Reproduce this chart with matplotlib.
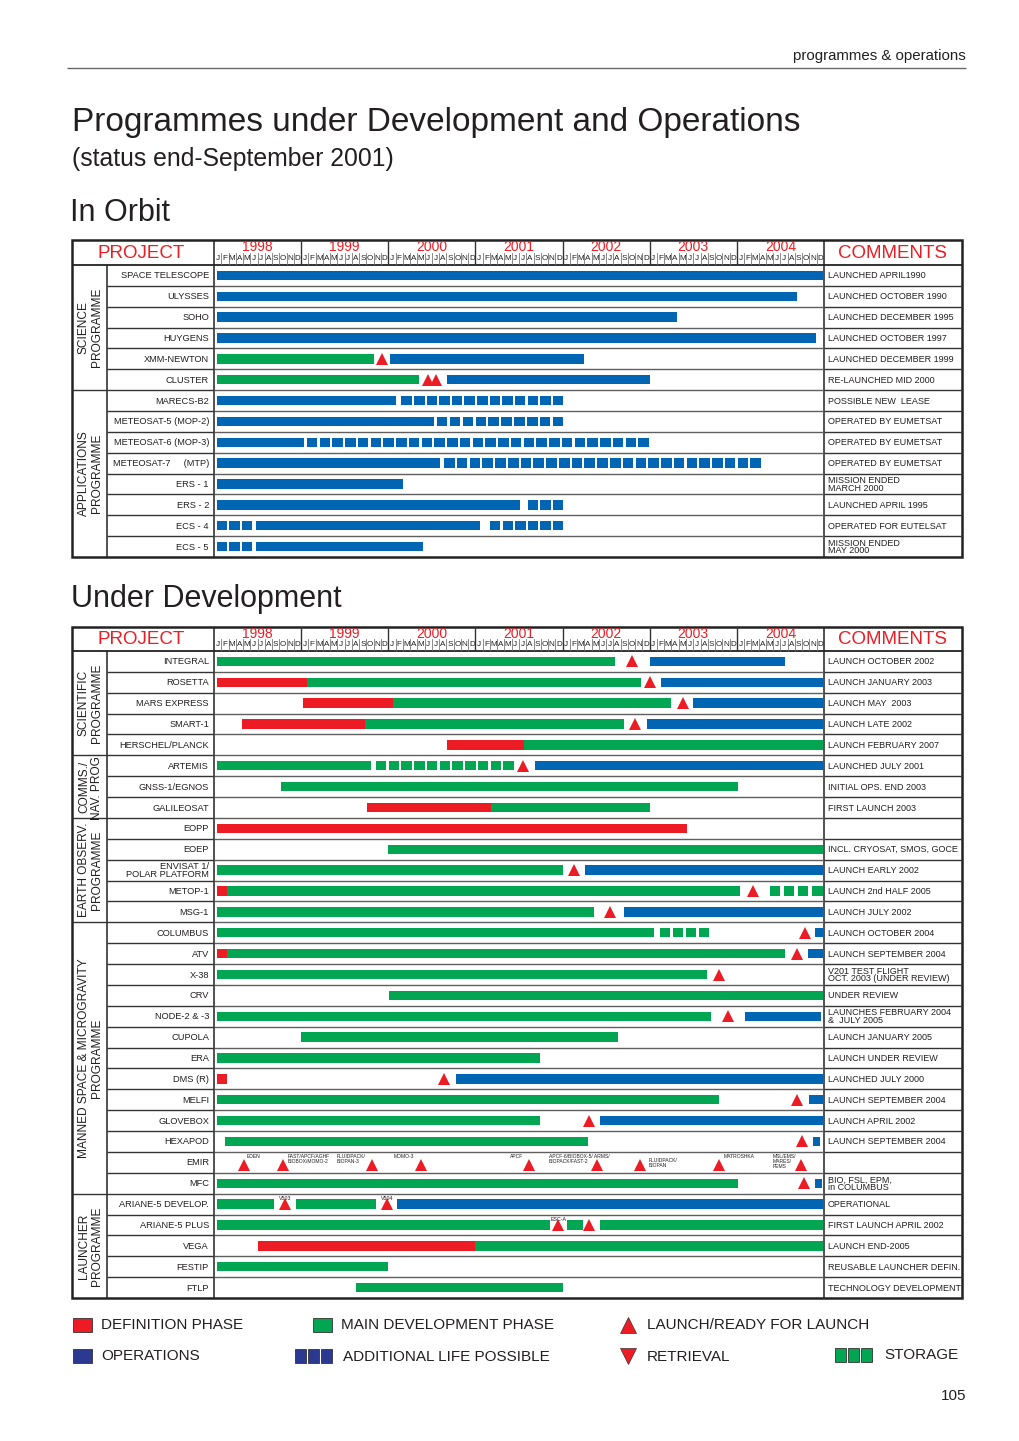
import numpy as np
import matplotlib
matplotlib.use("Agg")
import matplotlib.pyplot as plt
from matplotlib.patches import Rectangle
from matplotlib import font_manager

plt.rcParams['font.family'] = ['Liberation Sans', 'DejaVu Sans']
_avail = {f.name for f in font_manager.fontManager.ttflist}
NARROW = 'Liberation Sans Narrow' if 'Liberation Sans Narrow' in _avail else 'Liberation Sans'
NS = 1.0 if NARROW == 'Liberation Sans Narrow' else 0.84

# ------------------------------------------------------------------ data
years = ["1998", "1999", "2000", "2001", "2002", "2003", "2004"]
month_letters = list("JFMAMJJASOND")

# ---- In Orbit
orbit_names = ["SPACE TELESCOPE", "ULYSSES", "SOHO", "HUYGENS", "XMM-NEWTON", "CLUSTER",
               "MARECS-B2", "METEOSAT-5 (MOP-2)", "METEOSAT-6 (MOP-3)", "METEOSAT-7     (MTP)",
               "ERS - 1", "ERS - 2", "ECS - 4", "ECS - 5"]
orbit_comments = ["LAUNCHED APRIL1990", "LAUNCHED OCTOBER 1990", "LAUNCHED DECEMBER 1995",
                  "LAUNCHED OCTOBER 1997", "LAUNCHED DECEMBER 1999", "RE-LAUNCHED MID 2000",
                  "POSSIBLE NEW  LEASE", "OPERATED BY EUMETSAT", "OPERATED BY EUMETSAT",
                  "OPERATED BY EUMETSAT", "MISSION ENDED\nMARCH 2000", "LAUNCHED APRIL 1995",
                  "OPERATED FOR EUTELSAT", "MISSION ENDED\nMAY 2000"]
orbit_groups = ["SCIENCE\nPROGRAMME", "APPLICATIONS\nPROGRAMME"]
orbit_group_sizes = [6, 8]
# (row, phase, start month, end month) ; month 0 = Jan 1998
orbit_bars = [
    (0, 'ops', 0.4, 83.8), (1, 'ops', 0.4, 80.3), (2, 'ops', 0.4, 63.8), (3, 'ops', 0.4, 82.9),
    (4, 'dev', 0.4, 22.0), (4, 'ops', 24.2, 51.0),
    (5, 'dev', 0.4, 28.2), (5, 'ops', 32.1, 60.1),
    (6, 'ops', 0.4, 25.1), (7, 'ops', 0.4, 30.3), (8, 'ops', 0.4, 12.4), (9, 'ops', 0.4, 31.1),
    (10, 'ops', 0.4, 26.0), (11, 'ops', 0.4, 42.1), (12, 'ops', 5.8, 36.6), (13, 'ops', 5.8, 28.8),
]
orbit_launches = [(4, 23.1), (5, 29.5), (5, 30.6)]
# (row, phase, start, end, number of squares)
orbit_squares = [
    (6, 'ops', 25.8, 48.1, 13), (7, 'ops', 30.7, 48.1, 10), (8, 'ops', 12.8, 59.9, 27),
    (9, 'ops', 31.7, 75.3, 25), (11, 'ops', 43.2, 48.1, 3), (12, 'ops', 0.4, 5.3, 3),
    (12, 'ops', 38.0, 48.1, 6), (13, 'ops', 0.4, 5.3, 3),
]

# ---- Under Development
dev_names = ["INTEGRAL", "ROSETTA", "MARS EXPRESS", "SMART-1", "HERSCHEL/PLANCK",
             "ARTEMIS", "GNSS-1/EGNOS", "GALILEOSAT",
             "EOPP", "EOEP", "ENVISAT 1/\nPOLAR PLATFORM", "METOP-1", "MSG-1",
             "COLUMBUS", "ATV", "X-38", "CRV", "NODE-2 & -3", "CUPOLA", "ERA", "DMS (R)",
             "MELFI", "GLOVEBOX", "HEXAPOD", "EMIR", "MFC",
             "ARIANE-5 DEVELOP.", "ARIANE-5 PLUS", "VEGA", "FESTIP", "FTLP"]
dev_comments = ["LAUNCH OCTOBER 2002", "LAUNCH JANUARY 2003", "LAUNCH MAY  2003",
                "LAUNCH LATE 2002", "LAUNCH FEBRUARY 2007", "LAUNCHED JULY 2001",
                "INITIAL OPS. END 2003", "FIRST LAUNCH 2003", "", "INCL. CRYOSAT, SMOS, GOCE",
                "LAUNCH EARLY 2002", "LAUNCH 2nd HALF 2005", "LAUNCH JULY 2002",
                "LAUNCH OCTOBER 2004", "LAUNCH SEPTEMBER 2004",
                "V201 TEST FLIGHT\nOCT. 2003 (UNDER REVIEW)", "UNDER REVIEW",
                "LAUNCHES FEBRUARY 2004\n&  JULY 2005", "LAUNCH JANUARY 2005",
                "LAUNCH UNDER REVIEW", "LAUNCHED JULY 2000", "LAUNCH SEPTEMBER 2004",
                "LAUNCH APRIL 2002", "LAUNCH SEPTEMBER 2004", "", "BIO, FSL, EPM,\nin COLUMBUS",
                "OPERATIONAL", "FIRST LAUNCH APRIL 2002", "LAUNCH END-2005",
                "REUSABLE LAUNCHER DEFIN.", "TECHNOLOGY DEVELOPMENT"]
dev_groups = ["SCIENTIFIC\nPROGRAMME", "COMMS./\nNAV. PROG.", "EARTH OBSERV.\nPROGRAMME",
              "MANNED SPACE & MICROGRAVITY\nPROGRAMME", "LAUNCHER\nPROGRAMME"]
dev_group_sizes = [5, 3, 5, 13, 5]
dev_bars = [
    (0, 'dev', 0.4, 55.2), (0, 'ops', 60.0, 78.6),
    (1, 'def', 0.4, 12.8), (1, 'dev', 12.8, 58.8), (1, 'ops', 61.6, 83.8),
    (2, 'def', 12.2, 24.6), (2, 'dev', 24.6, 63.0), (2, 'ops', 65.9, 83.8),
    (3, 'def', 3.9, 20.8), (3, 'dev', 20.8, 56.5), (3, 'ops', 59.6, 83.8),
    (4, 'def', 32.1, 42.7), (4, 'dev', 42.7, 83.8),
    (5, 'dev', 0.4, 21.6), (5, 'ops', 44.2, 83.8),
    (6, 'dev', 9.2, 72.1),
    (7, 'def', 21.1, 38.1), (7, 'dev', 38.1, 60.0),
    (8, 'def', 0.4, 65.2),
    (9, 'dev', 23.9, 83.8),
    (10, 'dev', 0.4, 48.0), (10, 'ops', 51.1, 83.8),
    (11, 'def', 0.4, 1.8), (11, 'dev', 1.8, 72.5),
    (12, 'dev', 0.4, 52.3), (12, 'ops', 56.5, 83.8),
    (13, 'dev', 0.4, 60.6), (13, 'ops', 82.8, 83.8),
    (14, 'def', 0.4, 1.8), (14, 'dev', 1.8, 78.6), (14, 'ops', 81.8, 83.8),
    (15, 'dev', 0.4, 67.9),
    (16, 'dev', 24.1, 83.8),
    (17, 'dev', 0.4, 68.5), (17, 'ops', 73.1, 83.6),
    (18, 'dev', 12.0, 55.7),
    (19, 'dev', 0.4, 44.9),
    (20, 'def', 0.4, 1.8), (20, 'ops', 33.3, 83.8),
    (21, 'dev', 0.4, 69.6), (21, 'ops', 81.9, 83.8),
    (22, 'dev', 0.4, 44.9), (22, 'ops', 53.1, 83.8),
    (23, 'dev', 1.5, 51.5), (23, 'ops', 82.5, 83.5),
    (25, 'dev', 0.4, 72.1), (25, 'ops', 82.8, 83.7),
    (26, 'dev', 0.4, 8.3), (26, 'dev', 11.3, 22.3), (26, 'ops', 25.2, 83.8),
    (27, 'dev', 0.4, 46.3), (27, 'dev', 48.6, 50.8), (27, 'dev', 53.1, 83.8),
    (28, 'def', 6.1, 36.0), (28, 'dev', 36.0, 83.8),
    (29, 'dev', 0.4, 24.0),
    (30, 'dev', 19.5, 48.0),
]
dev_launches = [(0, 57.6), (1, 60.1), (2, 64.6), (3, 58.0), (5, 42.5), (10, 49.6), (11, 74.2),
                (12, 54.5), (13, 81.4), (14, 80.3), (15, 69.5), (17, 70.8), (20, 31.7),
                (21, 80.3), (22, 51.6), (23, 81.0), (25, 81.2), (26, 9.8), (26, 23.8),
                (27, 47.4), (27, 51.7)]
dev_squares = [(5, 'dev', 22.3, 41.3, 11), (11, 'dev', 76.5, 83.8, 4), (13, 'dev', 61.4, 68.2, 4)]
# EMIR payload launches (row 24)
emir_months = [4.1, 9.5, 21.7, 28.5, 43.4, 52.8, 58.6, 69.5, 80.9]
emir_labels = ["EDEN", "FAST/APCF/AGHF\nBIOBOX/MOMO-2", "FLUIDPACK/\nBIOPAN-3", "MOMO-3", "APCF",
               "APCF-6/BIOBOX-5/ ARMS/\nBIOPACK/FAST-2", "FLUIDPACK/\nBIOPAN", "MATROSHKA",
               "MSL/EMS/\nMARES/\nPEMS"]
# small flight labels above launch triangles
flight_labels = [(26, 9.8, "V503"), (26, 23.8, "V504"), (27, 47.4, "ESC-A")]

# ------------------------------------------------------------------ style / layout
PHASE_COLOR = {'def': '#ED1C24', 'dev': '#00A651', 'ops': '#0066B3'}
RED = '#ED1C24'
TXT = '#231F20'
LINE = '#2b2b2b'
EMIR_DX = [0.45, 0.65, -4.8, -3.8, -2.6, -6.7, 1.3, 0.7, -4.0]
EMIR_DY = [0.12, 0.12, 0.12, 0.12, 0.12, 0.12, 0.30, 0.12, 0.12]

W, H = 1020, 1441
XL, XG, XT, XC, XR = 72, 107, 214, 824, 962
NMONTH = 84
BAR_H = 0.45
SQ_W = 1.45

fig = plt.figure(figsize=(W / 100, H / 100), dpi=100)
bg = fig.add_axes([0, 0, 1, 1])
bg.set_xlim(0, W)
bg.set_ylim(H, 0)
bg.axis('off')


def hline(x0, x1, y, color=LINE, lw=1.0):
    bg.plot([x0, x1], [y, y], color=color, lw=lw, solid_capstyle='butt')


def vline(x, y0, y1, color=LINE, lw=1.0):
    bg.plot([x, x], [y0, y1], color=color, lw=lw, solid_capstyle='butt')


def draw_panel(top, hdr_bot, bottom, names, comments, groups, gsizes,
               bars, launches, squares):
    n = len(names)
    rh = (bottom - hdr_bot) / n
    # frame
    bg.add_patch(Rectangle((XL, top), XR - XL, bottom - top, fill=False, lw=1.8, ec='#222'))
    hline(XL, XR, hdr_bot, '#222', 1.3)
    vline(XG, hdr_bot, bottom, '#222', 1.1)
    vline(XT, top, bottom, '#222', 1.1)
    vline(XC, top, bottom, '#222', 1.1)
    starts = np.cumsum([0] + gsizes[:-1])
    for i in range(1, n):
        y = hdr_bot + i * rh
        x0 = XL if i in starts else XG
        hline(x0, XT, y, '#333', 1.0)
        hline(XT, XC, y, '#5f5f5f', 1.0)
        hline(XC, XR, y, '#333', 1.0)
    # group labels
    for g, s, k in zip(groups, starts, gsizes):
        yc = hdr_bot + (s + k / 2) * rh
        bg.text((XL + XG) / 2 + 1, yc, g, rotation=90, ha='center', va='center',
                multialignment='center', fontsize=8.6, color=TXT, linespacing=1.12)
    # names & comments
    for i, (nm, cm) in enumerate(zip(names, comments)):
        yc = hdr_bot + (i + 0.5) * rh
        bg.text(XT - 5, yc + 0.5, nm, ha='right', va='center', fontsize=7.9 * NS,
                family=NARROW, color=TXT, linespacing=0.85, multialignment='right')
        if cm:
            bg.text(XC + 4, yc + 0.5, cm, ha='left', va='center', fontsize=7.75 * NS,
                    family=NARROW, color=TXT, linespacing=0.82)
    # header words
    yh = (top + hdr_bot) / 2 + 1
    bg.text((XL + XT) / 2 - 2, yh, "PROJECT", ha='center', va='center', fontsize=13.5, color=RED)
    bg.text((XC + XR) / 2, yh, "COMMENTS", ha='center', va='center', fontsize=13.5, color=RED)
    # header time scale
    hx = fig.add_axes([XT / W, 1 - hdr_bot / H, (XC - XT) / W, (hdr_bot - top) / H])
    hx.set_xlim(0, NMONTH)
    hx.set_ylim(1, 0)
    hx.axis('off')
    hx.patch.set_alpha(0)
    for k, yr in enumerate(years):
        hx.text(12 * k + 6, 0.28, yr, ha='center', va='center', fontsize=10, color=RED)
        if k > 0:
            hx.plot([12 * k, 12 * k], [0, 1], color='#333', lw=1.0)
    for m in range(NMONTH):
        hx.text(m + 0.5, 0.74, month_letters[m % 12], ha='center', va='center',
                fontsize=7.0 * NS, family=NARROW, color=TXT)
        if m % 12:
            hx.plot([m, m], [0.52, 1], color='#777', lw=0.6)
    # timeline axes
    ax = fig.add_axes([XT / W, 1 - bottom / H, (XC - XT) / W, (bottom - hdr_bot) / H])
    ax.set_xlim(0, NMONTH)
    ax.set_ylim(n, 0)
    ax.axis('off')
    ax.patch.set_alpha(0)
    for r, ph, s, e in bars:
        ax.barh(r + 0.5, e - s, left=s, height=BAR_H, color=PHASE_COLOR[ph], lw=0)
    for r, ph, s, e, k in squares:
        lefts = np.linspace(s, e - SQ_W, k)
        ax.barh([r + 0.5] * k, SQ_W, left=lefts, height=BAR_H, color=PHASE_COLOR[ph], lw=0)
    if launches:
        lr, lm = zip(*launches)
        ax.plot(lm, [v + 0.5 for v in lr], ls='none', marker='^', ms=9.2, color=RED, mew=0)
    return ax, rh


# ---- top header
bg.text(966, 56, "programmes & operations", ha='right', va='center', fontsize=10.8, color=TXT)
hline(67, 966, 68, '#666', 1.0)
bg.text(72, 122, "Programmes under Development and Operations", ha='left', va='center',
        fontsize=24, color=TXT)
bg.text(72, 159, "(status end-September 2001)", ha='left', va='center', fontsize=17.8, color=TXT)
bg.text(70, 213, "In Orbit", ha='left', va='center', fontsize=22, color=TXT)
bg.text(71, 599, "Under Development", ha='left', va='center', fontsize=22, color=TXT)

draw_panel(240, 265, 557, orbit_names, orbit_comments, orbit_groups, orbit_group_sizes,
           orbit_bars, orbit_launches, orbit_squares)
ax2, rh2 = draw_panel(627, 651, 1298, dev_names, dev_comments, dev_groups, dev_group_sizes,
                      dev_bars, dev_launches, dev_squares)

# EMIR row
emir_row = dev_names.index("EMIR")
ax2.plot(emir_months, [emir_row + 0.62] * len(emir_months), ls='none', marker='^', ms=9.2,
         color=RED, mew=0)
for m, lab, dx, dy in zip(emir_months, emir_labels, EMIR_DX, EMIR_DY):
    ax2.text(m + dx, emir_row + dy, lab, ha='left', va='top', fontsize=3.6, color=TXT,
             linespacing=0.95, family=NARROW)
for r, m, lab in flight_labels:
    ax2.text(m, r + 0.1, lab, ha='center', va='top', fontsize=3.8, color=TXT, family=NARROW)

# ---- legend
LEG_BLUE = '#2B3A90'


def leg_rect(x, y, w, h, c):
    bg.add_patch(Rectangle((x, y), w, h, fc=c, ec='#333', lw=0.6))


leg_rect(73, 1318, 19, 14, PHASE_COLOR['def'])
bg.text(101, 1325, "DEFINITION PHASE", va='center', fontsize=11, color=TXT)
leg_rect(313, 1318, 19, 14, PHASE_COLOR['dev'])
bg.text(341, 1325, "MAIN DEVELOPMENT PHASE", va='center', fontsize=11, color=TXT)
bg.plot([628], [1325], ls='none', marker='^', ms=11, color=RED, mew=0.5, mec='#333')
bg.text(647, 1325, "LAUNCH/READY FOR LAUNCH", va='center', fontsize=11, color=TXT)

leg_rect(73, 1349, 19, 14, LEG_BLUE)
bg.text(101, 1356, "OPERATIONS", va='center', fontsize=11, color=TXT)
for k in range(3):
    leg_rect(295 + k * 13, 1349, 11, 14, LEG_BLUE)
bg.text(343, 1357, "ADDITIONAL LIFE POSSIBLE", va='center', fontsize=11, color=TXT)
bg.plot([628], [1356], ls='none', marker='v', ms=11, color=RED, mew=0.5, mec='#333')
bg.text(647, 1357, "RETRIEVAL", va='center', fontsize=11, color=TXT)
for k in range(3):
    leg_rect(835 + k * 13, 1348, 11, 14, PHASE_COLOR['dev'])
bg.text(884, 1355, "STORAGE", va='center', fontsize=11, color=TXT)

bg.text(966, 1396, "105", ha='right', va='center', fontsize=11, color=TXT)

fig.savefig("out.png", dpi=100, facecolor='white')
